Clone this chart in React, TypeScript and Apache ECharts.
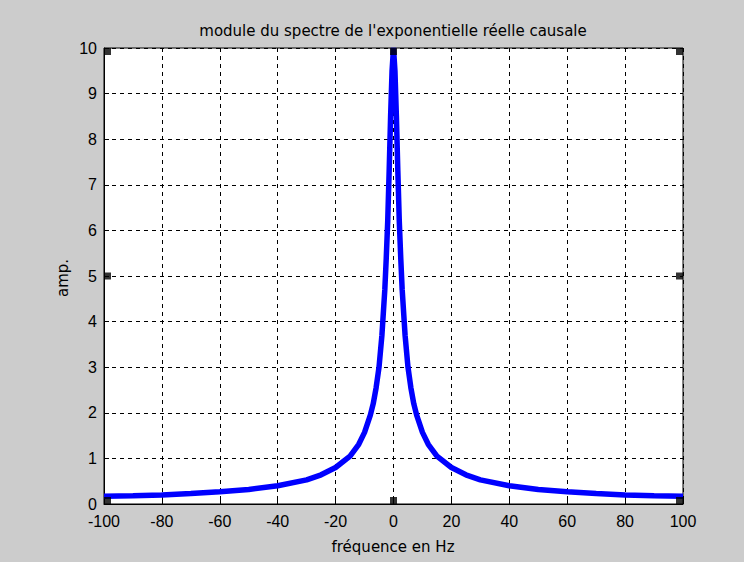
import React, { useEffect, useRef } from "react";
import * as echarts from "echarts";

const titleText = "module du spectre de l'exponentielle réelle causale";
const xName = "fréquence en Hz";
const yName = "amp.";

const freqs = [
  -100, -90, -80, -70, -60, -50, -40, -30, -25, -20, -15, -12, -10, -8, -7, -6, -5, -4, -3, -2.5, -2, -1.5, -1, -0.5,
  0,
  0.5, 1, 1.5, 2, 2.5, 3, 4, 5, 6, 7, 8, 10, 12, 15, 20, 25, 30, 40, 50, 60, 70, 80, 90, 100,
];
const amps = [
  0.17, 0.18, 0.2, 0.23, 0.27, 0.32, 0.4, 0.53, 0.64, 0.8, 1.05, 1.31, 1.57, 1.95, 2.2, 2.55, 3.0, 3.7, 4.7, 5.4, 6.2, 7.3, 8.5, 9.5,
  10,
  9.5, 8.5, 7.3, 6.2, 5.4, 4.7, 3.7, 3.0, 2.55, 2.2, 1.95, 1.57, 1.31, 1.05, 0.8, 0.64, 0.53, 0.4, 0.32, 0.27, 0.23, 0.2, 0.18, 0.17,
];

const markerX = [-100, 0, 100, -100, 100, -100, 0, 100];
const markerY = [10, 10, 10, 5, 5, 0, 0, 0];

const xMin = -100;
const xMax = 100;
const xStep = 20;
const yMin = 0;
const yMax = 10;
const yStep = 1;

export default function App() {
  const ref = useRef<HTMLDivElement>(null);
  useEffect(() => {
    const chart = echarts.init(ref.current!, null, { renderer: "svg" });
    const tickFont = {
      color: "#000",
      fontSize: 16,
      fontFamily: "Liberation Sans, Arial, sans-serif",
    };
    const gridLine = { show: true, lineStyle: { color: "#000", width: 1, type: [4, 4] as any } };
    const markers = markerX.map((x, i) => {
      const y = markerY[i];
      const dx = x === xMin ? 3.5 : x === xMax ? -3.5 : 0;
      const dy = y === yMax ? 3.5 : y === yMin ? -3.5 : 0;
      return { value: [x, y], symbolOffset: [dx, dy] };
    });
    chart.setOption({
      animation: false,
      backgroundColor: "#cccccc",
      grid: {
        left: 104,
        right: 61,
        top: 48,
        bottom: 58,
        show: true,
        backgroundColor: "#ffffff",
        borderColor: "#000",
        borderWidth: 1,
      },
      xAxis: {
        type: "value",
        min: xMin,
        max: xMax,
        interval: xStep,
        axisLine: { show: true, onZero: false, lineStyle: { color: "#000", width: 1 } },
        axisTick: { show: true, inside: true, length: 5, lineStyle: { color: "#000" } },
        axisLabel: { ...tickFont, margin: 9 },
        splitLine: gridLine,
      },
      yAxis: {
        type: "value",
        min: yMin,
        max: yMax,
        interval: yStep,
        axisLine: { show: true, onZero: false, lineStyle: { color: "#000", width: 1 } },
        axisTick: { show: true, inside: true, length: 5, lineStyle: { color: "#000" } },
        axisLabel: { ...tickFont, margin: 7 },
        splitLine: gridLine,
      },
      graphic: [
        {
          type: "text",
          x: 393,
          y: 31,
          style: {
            text: titleText,
            font: '15px "DejaVu Sans"',
            fill: "#000",
            align: "center",
            verticalAlign: "middle",
          },
        },
        {
          type: "text",
          x: 393,
          y: 547,
          style: {
            text: xName,
            font: '15px "DejaVu Sans"',
            fill: "#000",
            align: "center",
            verticalAlign: "middle",
          },
        },
        {
          type: "text",
          x: 63,
          y: 278,
          rotation: Math.PI / 2,
          style: {
            text: yName,
            font: '15px "DejaVu Sans"',
            fill: "#000",
            align: "center",
            verticalAlign: "middle",
          },
        },
      ],
      series: [
        {
          type: "line",
          data: freqs.map((f, i) => [f, amps[i]]),
          showSymbol: false,
          symbol: "none",
          smooth: false,
          clip: true,
          lineStyle: { color: "#0000ff", width: 5.5 },
          z: 2,
        },
        {
          type: "scatter",
          data: markers,
          symbol: "rect",
          symbolSize: 7,
          clip: false,
          itemStyle: { color: "#000" },
          z: 3,
        },
      ],
    });
    return () => chart.dispose();
  }, []);
  return <div ref={ref} style={{ position: "fixed", left: 0, top: 0, width: 744, height: 562 }} />;
}
